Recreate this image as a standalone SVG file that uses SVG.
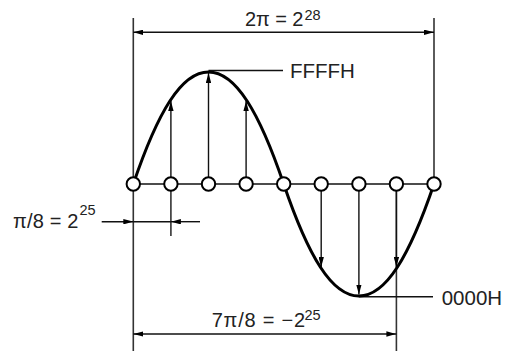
<svg xmlns="http://www.w3.org/2000/svg" width="510" height="351" viewBox="0 0 510 351">
<style>
.ln{stroke:#111;stroke-width:1.4;fill:none}
.dim{stroke:#333;stroke-width:1.6;fill:none}
.curve{stroke:#000;stroke-width:3;fill:none}
.pt{fill:#fff;stroke:#000;stroke-width:2}
.t{font-family:"Liberation Sans",Arial,sans-serif;fill:#222;font-size:20px}
.s{font-family:"Liberation Sans",Arial,sans-serif;fill:#222;font-size:14.5px}
.h{font-family:"Liberation Sans",Arial,sans-serif;fill:#222;font-size:20.5px}
</style>
<defs>
<marker id="ah" viewBox="0 0 10 5.4" refX="10" refY="2.7" markerWidth="10" markerHeight="5.4" markerUnits="userSpaceOnUse" orient="auto">
<path d="M0,0 L10,2.7 L0,5.4 z" fill="#000"/>
</marker>
<marker id="as" viewBox="0 0 10 5.4" refX="0" refY="2.7" markerWidth="10" markerHeight="5.4" markerUnits="userSpaceOnUse" orient="auto">
<path d="M10,0 L0,2.7 L10,5.4 z" fill="#000"/>
</marker>
</defs>
<g id="connectors">
<line class="dim" x1="133.3" y1="18" x2="133.3" y2="351"/>
<line class="dim" x1="434" y1="18" x2="434" y2="184"/>
<line class="dim" x1="396.4" y1="184" x2="396.4" y2="351"/>
<line class="dim" x1="170.9" y1="184" x2="170.9" y2="236"/>
<line class="ln" x1="133.3" y1="32.3" x2="434" y2="32.3" marker-start="url(#as)" marker-end="url(#ah)"/>
<line class="ln" x1="133.3" y1="334" x2="396.4" y2="334" marker-start="url(#as)" marker-end="url(#ah)"/>
<line class="ln" x1="101.7" y1="221.7" x2="133.3" y2="221.7" marker-end="url(#ah)"/>
<line class="ln" x1="200" y1="221.7" x2="170.9" y2="221.7" marker-end="url(#ah)"/>
<line class="ln" x1="133.3" y1="221.7" x2="170.9" y2="221.7"/>
<line class="ln" x1="208.5" y1="70.5" x2="283" y2="70.5"/>
<line class="ln" x1="358.9" y1="296.7" x2="433" y2="296.7"/>
<line class="ln" x1="133.3" y1="184" x2="434" y2="184"/>
<line class="ln" x1="170.9" y1="184" x2="170.9" y2="101" marker-end="url(#ah)"/>
<line class="ln" x1="208.5" y1="184" x2="208.5" y2="73" marker-end="url(#ah)"/>
<line class="ln" x1="246.1" y1="184" x2="246.1" y2="101" marker-end="url(#ah)"/>
<line class="ln" x1="321.2" y1="184" x2="321.2" y2="267" marker-end="url(#ah)"/>
<line class="ln" x1="358.9" y1="184" x2="358.9" y2="294.5" marker-end="url(#ah)"/>
<line class="ln" x1="396.4" y1="184" x2="396.4" y2="267" marker-end="url(#ah)"/>
</g>
<path id="wave" class="curve" d="M133.3,184 C157.8,112 181.3,72 208.5,72 C235.7,72 259.2,112 283.7,184 C308.2,256 331.7,296 358.9,296 C386.1,296 409.5,256 434,184"/>
<g id="samples">
<circle class="pt" cx="133.3" cy="184" r="6.7"/>
<circle class="pt" cx="170.9" cy="184" r="6.7"/>
<circle class="pt" cx="208.5" cy="184" r="6.7"/>
<circle class="pt" cx="246.1" cy="184" r="6.7"/>
<circle class="pt" cx="283.7" cy="184" r="6.7"/>
<circle class="pt" cx="321.2" cy="184" r="6.7"/>
<circle class="pt" cx="358.9" cy="184" r="6.7"/>
<circle class="pt" cx="396.4" cy="184" r="6.7"/>
<circle class="pt" cx="434" cy="184" r="6.7"/>
</g>
<g id="labels">
<text class="t" x="245" y="25.7" textLength="58.3" lengthAdjust="spacing">2π = 2</text>
<text class="s" x="304.5" y="19.5">28</text>
<text class="h" x="290" y="78.3">FFFFH</text>
<text class="t" x="13" y="228.3" textLength="65.3" lengthAdjust="spacing">π/8 = 2</text>
<text class="s" x="79.5" y="215">25</text>
<text class="h" x="441.7" y="305.3">0000H</text>
<text class="t" x="211.7" y="326.7" textLength="93.3" lengthAdjust="spacing">7π/8 = −2</text>
<text class="s" x="304.5" y="319.5">25</text>
</g>
</svg>
